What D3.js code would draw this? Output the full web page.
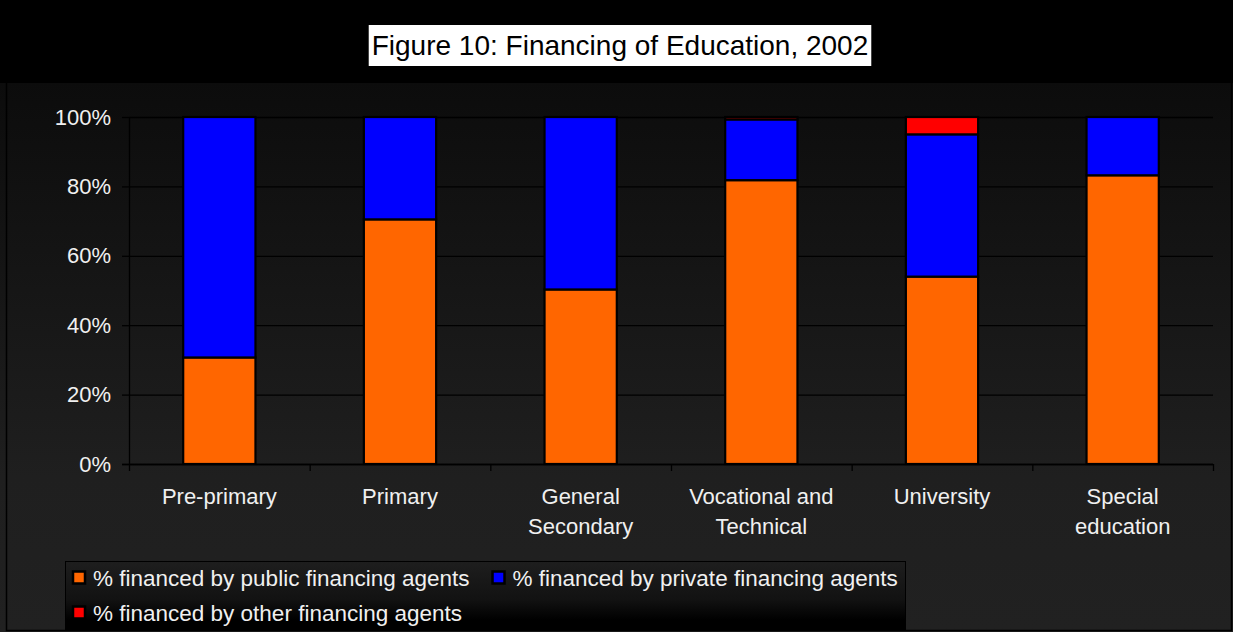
<!DOCTYPE html>
<html>
<head>
<meta charset="utf-8">
<script src="https://cdn.jsdelivr.net/npm/d3@7"></script>
<style>
  html, body { margin: 0; padding: 0; background: #000; }
  svg { display: block; }
  text { font-family: "Liberation Sans", Arial, sans-serif; }
</style>
</head>
<body>
<svg id="chart" width="1233" height="632"></svg>
<script>
// Education financing shares by level, 2002 (percent of total)
const categories = ["Pre-primary", "Primary", "General Secondary", "Vocational and Technical", "University", "Special education"];
const publicShare  = [30.7, 70.5, 50.3, 81.8, 54.0, 83.2];
const privateShare = [69.3, 29.5, 49.7, 17.5, 41.0, 16.8];
const otherShare   = [0, 0, 0, 0.7, 5.0, 0];
const seriesNames = ["% financed by public financing agents", "% financed by private financing agents", "% financed by other financing agents"];
const seriesColors = ["#FF6600", "#0000FF", "#FF0000"];
const yTicks = [0, 20, 40, 60, 80, 100];
const titleText = "Figure 10: Financing of Education, 2002";

const W = 1233, H = 632;
const plot = { left: 129, right: 1213, top: 117, bottom: 464 };
const svg = d3.select("#chart");
const defs = svg.append("defs");

// background gradients
const bg = defs.append("linearGradient").attr("id", "bgGrad")
  .attr("gradientUnits", "userSpaceOnUse").attr("x1", 0).attr("y1", 83).attr("x2", 0).attr("y2", 630);
bg.append("stop").attr("offset", 0).attr("stop-color", "#0c0c0c");
bg.append("stop").attr("offset", 0.72).attr("stop-color", "#1f1f1f");
bg.append("stop").attr("offset", 1).attr("stop-color", "#212121");

const lg = defs.append("linearGradient").attr("id", "legGrad")
  .attr("x1", 0).attr("y1", 0).attr("x2", 0).attr("y2", 1);
lg.append("stop").attr("offset", 0).attr("stop-color", "#1e1e1e");
lg.append("stop").attr("offset", 0.55).attr("stop-color", "#121212");
lg.append("stop").attr("offset", 0.85).attr("stop-color", "#000");
lg.append("stop").attr("offset", 1).attr("stop-color", "#000");

svg.append("rect").attr("x", 0).attr("y", 0).attr("width", W).attr("height", H).attr("fill", "url(#bgGrad)");
svg.append("rect").attr("x", 0).attr("y", 0).attr("width", W).attr("height", 83).attr("fill", "#000");
// chart frame edges
svg.append("path").attr("d", `M6.5,83 V630.5 H1231.5 V83`).attr("fill", "none").attr("stroke", "#000").attr("stroke-width", 1.5);

// title with white box
const titleG = svg.append("g");
const tt = titleG.append("text").attr("x", 620).attr("y", 55).attr("text-anchor", "middle")
  .attr("font-size", 28).attr("fill", "#000").text(titleText);
const tb = tt.node().getBBox();
titleG.insert("rect", "text").attr("x", tb.x - 3).attr("y", 25).attr("width", tb.width + 6).attr("height", 41).attr("fill", "#fff");

// scales
const x = d3.scaleBand().domain(categories).range([plot.left, plot.right]).paddingInner(0.6).paddingOuter(0.3);
const y = d3.scaleLinear().domain([0, 100]).range([plot.bottom, plot.top]);
const xEdge = d3.scaleLinear().domain([0, categories.length]).range([plot.left, plot.right]);

// gridlines
svg.append("g").attr("transform", `translate(${plot.left},0)`)
  .call(d3.axisLeft(y).tickValues(yTicks).tickSize(-(plot.right - plot.left)).tickFormat(""))
  .call(g => g.select(".domain").remove())
  .call(g => g.selectAll("line").attr("stroke", "#000").attr("stroke-width", 1.3));

// y axis
svg.append("g").attr("transform", `translate(${plot.left},0)`)
  .call(d3.axisLeft(y).tickValues(yTicks).tickSizeInner(7).tickSizeOuter(0).tickPadding(11).tickFormat(d => d + "%"))
  .call(g => g.select(".domain").attr("stroke", "#000").attr("stroke-width", 1.3))
  .call(g => g.selectAll("line").attr("stroke", "#000").attr("stroke-width", 1.3))
  .call(g => g.selectAll("text").attr("fill", "#f0f0f0").attr("font-size", 22)
    .attr("font-family", "'Liberation Sans', Arial, sans-serif"));

// stacked bars
const rows = categories.map((c, i) => ({ cat: c, pub: publicShare[i], priv: privateShare[i], oth: otherShare[i] }));
const stack = d3.stack().keys(["pub", "priv", "oth"]);
const layers = stack(rows);
svg.append("g").selectAll("g").data(layers).join("g")
  .attr("fill", (d, i) => seriesColors[i])
  .selectAll("rect").data(d => d.filter(s => s[1] - s[0] > 0)).join("rect")
  .attr("x", d => x(d.data.cat))
  .attr("width", x.bandwidth())
  .attr("y", d => y(d[1]))
  .attr("height", d => y(d[0]) - y(d[1]))
  .attr("stroke", "#000").attr("stroke-width", 2.2);

// x axis line and category boundary ticks
svg.append("g").attr("transform", `translate(0,${plot.bottom})`)
  .call(d3.axisBottom(xEdge).ticks(categories.length).tickSizeInner(7).tickSizeOuter(0).tickFormat(""))
  .call(g => g.select(".domain").attr("stroke", "#000").attr("stroke-width", 1.3).attr("d", `M${plot.left - 7},0.5H${plot.right}`))
  .call(g => g.selectAll("line").attr("stroke", "#000").attr("stroke-width", 1.3));

// category labels, wrapped
const labelG = svg.append("g").attr("transform", `translate(0,${plot.bottom})`)
  .call(d3.axisBottom(x).tickSize(0).tickPadding(0))
  .call(g => g.select(".domain").remove());
labelG.selectAll("text").each(function(d) {
  const t = d3.select(this).attr("fill", "#f0f0f0").attr("font-size", 22)
    .attr("font-family", "'Liberation Sans', Arial, sans-serif").attr("dy", null).attr("y", 0).text(null);
  const words = d.split(" ");
  const lines = [];
  let cur = [];
  words.forEach(w => {
    const test = cur.concat(w).join(" ");
    t.text(test);
    if (cur.length && t.node().getComputedTextLength() > 165) { lines.push(cur.join(" ")); cur = [w]; }
    else cur.push(w);
  });
  lines.push(cur.join(" "));
  t.text(null);
  lines.forEach((ln, i) => t.append("tspan").attr("x", 0).attr("y", 40 + i * 30).text(ln));
});

// legend
const leg = { x: 65, y: 561, w: 840, h: 69 };
svg.append("rect").attr("x", leg.x + 0.5).attr("y", leg.y + 0.5).attr("width", leg.w).attr("height", leg.h)
  .attr("fill", "url(#legGrad)").attr("stroke", "#000").attr("stroke-width", 1);
const legItems = svg.append("g");
let lx = leg.x + 8, row = 0;
seriesNames.forEach((name, i) => {
  const g = legItems.append("g");
  const txt = g.append("text").attr("x", 20).attr("y", 8).attr("font-size", 22.5).attr("fill", "#f0f0f0").text(name);
  g.append("rect").attr("x", 0).attr("y", -6.5).attr("width", 12).attr("height", 12)
    .attr("fill", seriesColors[i]).attr("stroke", "#000").attr("stroke-width", 2.5);
  const wItem = 20 + txt.node().getComputedTextLength();
  if (lx + wItem > leg.x + leg.w - 4) { lx = leg.x + 8; row += 1; }
  g.attr("transform", `translate(${lx},${578 + row * 35})`);
  lx += wItem + 23;
});
</script>
</body>
</html>
